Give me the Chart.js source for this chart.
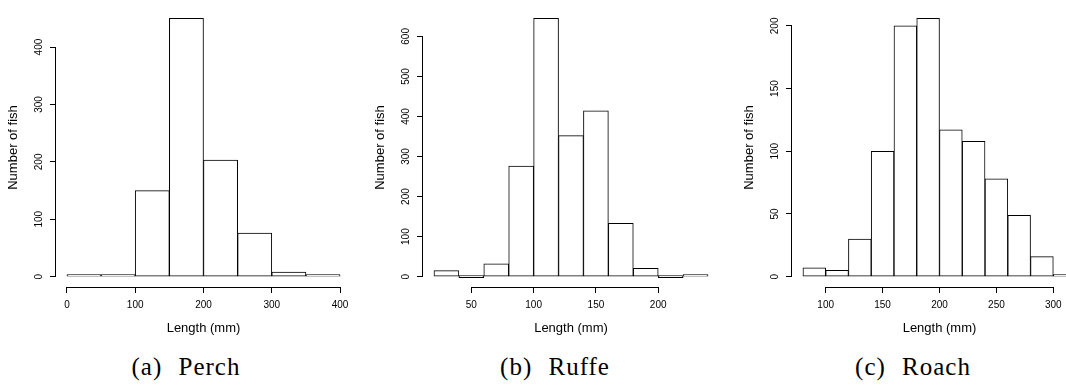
<!DOCTYPE html>
<html>
<head>
<meta charset="utf-8">
<script src="https://cdn.jsdelivr.net/npm/chart.js@4.4.1/dist/chart.umd.min.js"></script>
<style>
  html, body { margin: 0; padding: 0; width: 1066px; height: 385px; overflow: hidden; background: #fff; }
  .panel { position: absolute; top: 0; height: 345px; }
  .cap { position: absolute; top: 354px; font-family: "Liberation Serif", serif; font-size: 25px;
         line-height: 25px; letter-spacing: 1px; word-spacing: 9px; color: #000;
         transform: translateX(-50%); white-space: nowrap; }
</style>
</head>
<body>
<div class="panel" style="left:0px;width:355px"><canvas id="perch"></canvas></div>
<div class="panel" style="left:367px;width:356px"><canvas id="ruffe"></canvas></div>
<div class="panel" style="left:736px;width:355px"><canvas id="roach"></canvas></div>
<div class="cap" style="left:186px">(a) Perch</div>
<div class="cap" style="left:555px">(b) Ruffe</div>
<div class="cap" style="left:913px">(c) Roach</div>
<script>
// bin edges and counts
const perchBreaks = [0, 50, 100, 150, 200, 250, 300, 350, 400];
const perchCounts = [1, 2, 150, 450, 203, 76, 8, 2];
const perchXTicks = [0, 100, 200, 300, 400];
const perchYTicks = [0, 100, 200, 300, 400];

const ruffeBreaks = [20, 40, 60, 80, 100, 120, 140, 160, 180, 200, 220, 240];
const ruffeCounts = [15, 0, 32, 276, 645, 352, 414, 133, 21, 0, 2];
const ruffeXTicks = [50, 100, 150, 200];
const ruffeYTicks = [0, 100, 200, 300, 400, 500, 600];

const roachBreaks = [80, 100, 120, 140, 160, 180, 200, 220, 240, 260, 280, 300, 320];
const roachCounts = [7, 5, 30, 100, 200, 206, 117, 108, 78, 49, 16, 1];
const roachXTicks = [100, 150, 200, 250, 300];
const roachYTicks = [0, 50, 100, 150, 200];

const tickFont = { family: "'Liberation Sans', Arial, sans-serif", size: 10 };
const titleFont = { family: "'Liberation Sans', Arial, sans-serif", size: 13 };

// R-style axes: line only from first to last tick
const rAxes = {
    id: 'rAxes',
    afterDraw(chart) {
        const { ctx, chartArea, scales: { x, y } } = chart;
        const xt = x.ticks, yt = y.ticks;
        ctx.save();
        ctx.strokeStyle = '#000';
        ctx.lineWidth = 1;
        ctx.beginPath();
        const yb = Math.round(chartArea.bottom) + 0.5;
        ctx.moveTo(x.getPixelForValue(xt[0].value), yb);
        ctx.lineTo(x.getPixelForValue(xt[xt.length - 1].value), yb);
        const xl = Math.round(chartArea.left) - 0.5;
        ctx.moveTo(xl, y.getPixelForValue(yt[0].value));
        ctx.lineTo(xl, y.getPixelForValue(yt[yt.length - 1].value));
        ctx.stroke();
        ctx.restore();
    }
};

function makeHist(id, breaks, counts, xTicks, yTicks) {
    const data = counts.map((c, i) => ({ x: (breaks[i] + breaks[i + 1]) / 2, y: c }));
    const lo = breaks[0], hi = breaks[breaks.length - 1];
    const xpad = 0.04 * (hi - lo);
    const top = Math.max(...counts);

    new Chart(document.getElementById(id), {
        type: 'bar',
        data: {
            datasets: [{
                data: data,
                backgroundColor: '#fff',
                borderColor: '#000',
                borderWidth: 1,
                borderSkipped: false,
                barPercentage: 1,
                categoryPercentage: 1,
                minBarLength: 2
            }]
        },
        options: {
            responsive: true,
            maintainAspectRatio: false,
            animation: false,
            layout: { padding: { left: 0, top: 0, right: 4, bottom: 0 } },
            plugins: { legend: { display: false }, tooltip: { enabled: false } },
            scales: {
                x: {
                    type: 'linear',
                    min: lo - xpad,
                    max: hi + xpad,
                    offset: false,
                    afterBuildTicks: s => { s.ticks = xTicks.map(v => ({ value: v })); },
                    afterFit: s => { s.height = 58; },
                    border: { display: false },
                    grid: { offset: false, drawOnChartArea: false, drawTicks: true, tickLength: 6, color: '#000' },
                    ticks: { font: tickFont, color: '#000', padding: 6, maxRotation: 0, autoSkip: false },
                    title: { display: true, text: 'Length (mm)', font: titleFont, color: '#000', padding: { top: 0, bottom: 9 } }
                },
                y: {
                    min: -0.04 * top,
                    max: 1.04 * top,
                    afterBuildTicks: s => { s.ticks = yTicks.map(v => ({ value: v })); },
                    afterFit: s => { s.width = 56; },
                    border: { display: false },
                    grid: { drawOnChartArea: false, drawTicks: true, tickLength: 6, color: '#000' },
                    ticks: { font: tickFont, color: '#000', padding: 2, minRotation: 90, maxRotation: 90, crossAlign: 'center', autoSkip: false },
                    title: { display: true, text: 'Number of fish', font: titleFont, color: '#000', padding: { top: 6, bottom: 0 } }
                }
            }
        },
        plugins: [rAxes]
    });
}

makeHist('perch', perchBreaks, perchCounts, perchXTicks, perchYTicks);
makeHist('ruffe', ruffeBreaks, ruffeCounts, ruffeXTicks, ruffeYTicks);
makeHist('roach', roachBreaks, roachCounts, roachXTicks, roachYTicks);
</script>
</body>
</html>
